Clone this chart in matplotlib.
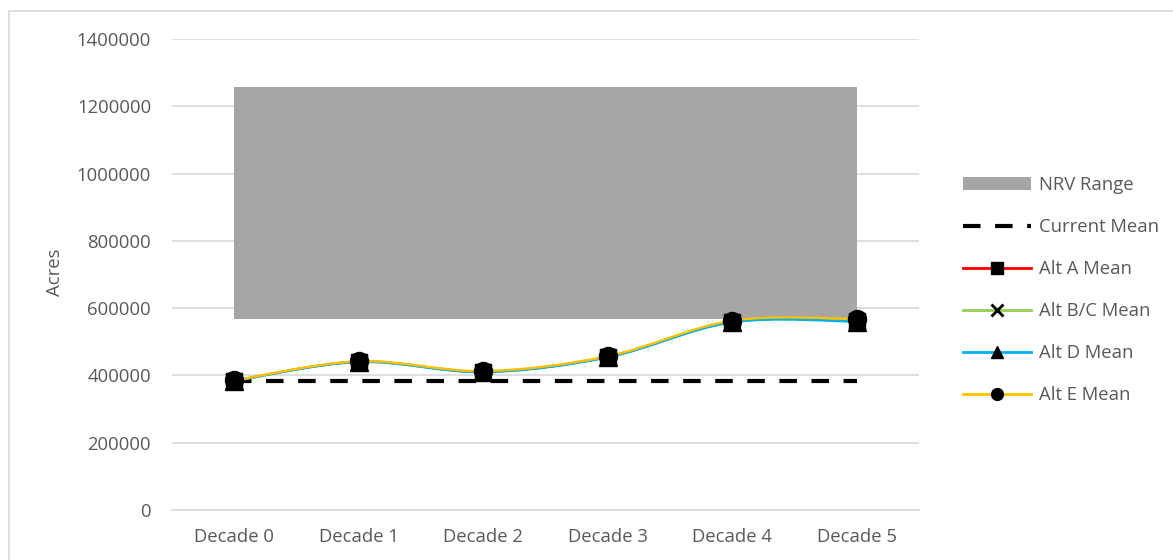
import matplotlib

matplotlib.use("Agg")
import matplotlib.pyplot as plt
import numpy as np
from matplotlib.lines import Line2D
from matplotlib.patches import Patch, PathPatch, Rectangle
from matplotlib.path import Path

plt.rcParams["font.family"] = ["Open Sans", "DejaVu Sans"]

decades = ["Decade 0", "Decade 1", "Decade 2", "Decade 3", "Decade 4", "Decade 5"]
nrv_low = [567000, 567000, 567000, 567000, 567000, 567000]
nrv_high = [1258000, 1258000, 1258000, 1258000, 1258000, 1258000]
current_mean = [383700, 383700, 383700, 383700, 383700, 383700]
alt_a = [384000, 441000, 411000, 455000, 560000, 562000]
alt_bc = [384000, 441000, 411000, 455000, 560000, 562000]
alt_d = [383500, 440000, 410000, 454000, 558000, 560000]
alt_e = [385000, 442000, 413000, 457000, 563000, 568000]

series = [
    ("Alt A Mean", alt_a, "#FF0000", "s", 12),
    ("Alt B/C Mean", alt_bc, "#92D050", "x", 12),
    ("Alt D Mean", alt_d, "#00B0F0", "^", 12.5),
    ("Alt E Mean", alt_e, "#FFC000", "o", 13),
]

TEXT = "#595959"
GRID = "#D9D9D9"
GRAY = "#A6A6A6"


def smooth_path(xs, ys):
    # Excel style smoothed line: Catmull-Rom turned into cubic Bezier pieces
    pts = np.column_stack([xs, ys]).astype(float)
    n = len(pts)
    verts = [pts[0]]
    codes = [Path.MOVETO]
    for i in range(n - 1):
        p0 = pts[max(i - 1, 0)]
        p1 = pts[i]
        p2 = pts[i + 1]
        p3 = pts[min(i + 2, n - 1)]
        c1 = p1 + (p2 - p0) / 6.0
        c2 = p2 - (p3 - p1) / 6.0
        verts += [c1, c2, p2]
        codes += [Path.CURVE4] * 3
    return Path(verts, codes)


W, H = 1173, 560
fig = plt.figure(figsize=(W / 100, H / 100), dpi=100)
ax = fig.add_axes([172 / W, 50 / H, 747 / W, 471 / H])

x = np.arange(len(decades))

ax.fill_between(x, nrv_low, nrv_high, color=GRAY, lw=0, zorder=1)
ax.plot(x, current_mean, color="black", lw=3, dashes=(4.2, 3.5), zorder=2)

for name, vals, col, mk, ms in series:
    ax.add_patch(PathPatch(smooth_path(x, vals), fill=False, edgecolor=col,
                           lw=1.7, zorder=3))
for name, vals, col, mk, ms in series:
    if mk == "x":
        ax.plot(x, vals, ls="none", marker=mk, ms=ms, mec="black", mew=2, zorder=4)
    else:
        ax.plot(x, vals, ls="none", marker=mk, ms=ms, color="black", zorder=4)

ax.set_xlim(-0.5, len(decades) - 0.5)
ax.set_ylim(0, 1400000)
ax.set_yticks(np.arange(0, 1400001, 200000))
ax.set_yticklabels([str(v) for v in range(0, 1400001, 200000)])
ax.set_xticks(x)
ax.set_xticklabels(decades)
ax.tick_params(axis="both", length=0, labelsize=13.3, labelcolor=TEXT)
ax.tick_params(axis="y", pad=15)
ax.tick_params(axis="x", pad=13)
ax.grid(axis="y", color=GRID, lw=1.2, zorder=0)
ax.set_axisbelow(True)
for s in ["top", "right", "left"]:
    ax.spines[s].set_visible(False)
ax.spines["bottom"].set_color(GRID)
ax.spines["bottom"].set_linewidth(1.2)

fig.text(55 / W, 1 - 272 / H, "Acres", rotation=90, ha="center", va="center",
         fontsize=13.3, color=TEXT)

handles = [
    Patch(facecolor=GRAY, edgecolor="none", label="NRV Range"),
    Line2D([], [], color="black", lw=3, dashes=(4.2, 3.5), label="Current Mean"),
]
for name, vals, col, mk, ms in series:
    if mk == "x":
        handles.append(Line2D([], [], color=col, lw=2, marker=mk, ms=8,
                              mec="black", mew=2, label=name))
    else:
        handles.append(Line2D([], [], color=col, lw=2, marker=mk, ms=8.5,
                              mfc="black", mec="black", label=name))

fig.legend(handles=handles, loc="upper left", bbox_to_anchor=(963 / W, 1 - 176 / H),
           frameon=False, fontsize=13.3, labelcolor=TEXT, handlelength=3.7,
           handletextpad=0.4, labelspacing=1.3, numpoints=1, borderaxespad=0,
           borderpad=0)

fig.add_artist(Rectangle((8.5 / W, -0.2), 2, 1.2 - 10.5 / H, transform=fig.transFigure,
                         fill=False, edgecolor=GRID, lw=1.2))

fig.savefig("out.png", dpi=100)
